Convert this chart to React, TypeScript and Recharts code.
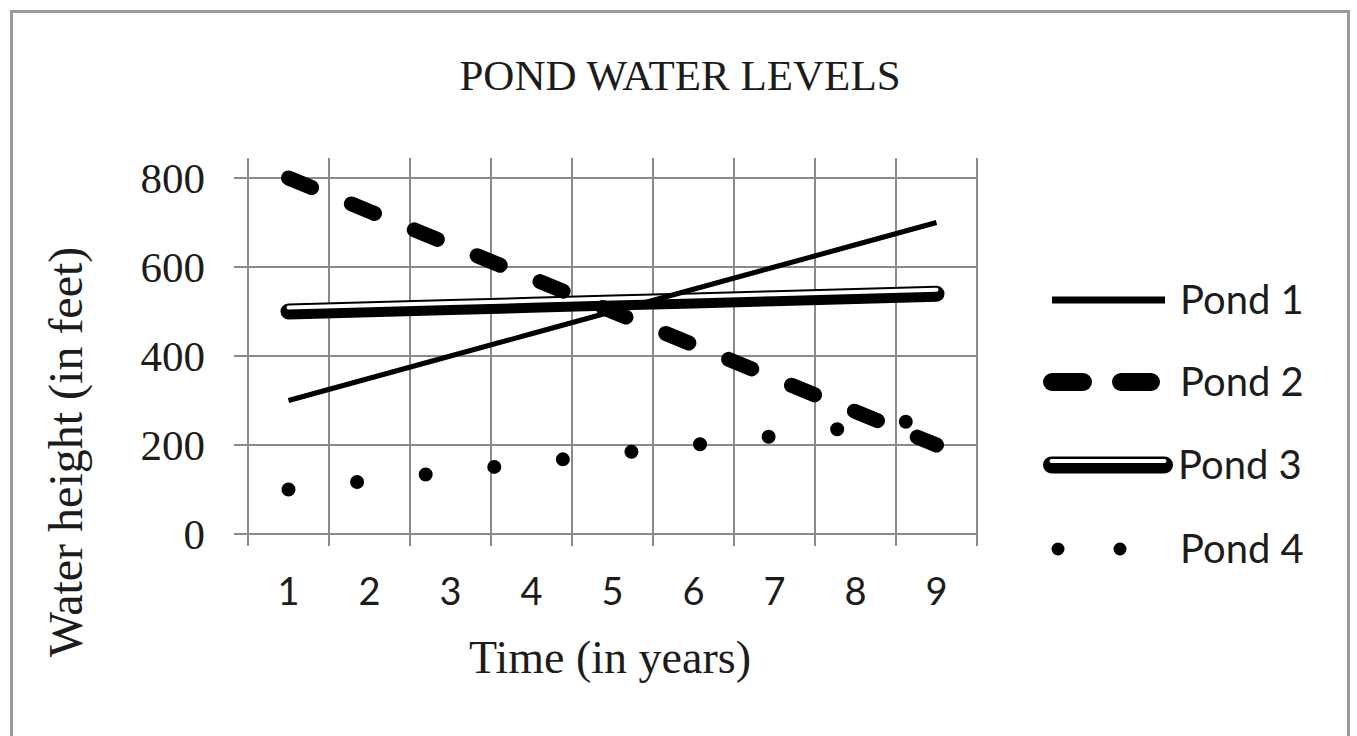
import React from 'react';
import { LineChart, Line, XAxis, YAxis, CartesianGrid, Legend } from 'recharts';

const years = [1, 2, 3, 4, 5, 6, 7, 8, 9];
const pond1 = [300, 350, 400, 450, 500, 550, 600, 650, 700];
const pond2 = [800, 725, 650, 575, 500, 425, 350, 275, 200];
const pond3 = [500, 505, 510, 515, 520, 525, 530, 535, 540];
const pond4 = [100, 120, 140, 160, 180, 200, 220, 240, 260];
const seriesNames = ['Pond 1', 'Pond 2', 'Pond 3', 'Pond 4'];
const yTicks = [0, 200, 400, 600, 800];
const yMax = 845;
const xMin = 0.5;
const xMax = 9.5;
const xBoundaries = [0.5, 1.5, 2.5, 3.5, 4.5, 5.5, 6.5, 7.5, 8.5, 9.5];

const data = years.map((y, i) => ({
  year: y,
  p1: pond1[i],
  p2: pond2[i],
  p3: pond3[i],
  p4: pond4[i],
}));

const SERIF = "'Liberation Serif', 'Times New Roman', serif";
const SANS = "Lato, 'Open Sans', sans-serif";
const GRID = '#8a8a8a';
const INK = '#1c1c1c';

const LegendContent = () => {
  const tx = 150;
  const fs = 40;
  return (
    <svg width={300} height={320} style={{ display: 'block', overflow: 'visible' }}>
      <line x1={22} y1={30} x2={135} y2={30} stroke="#000" strokeWidth={7} />
      <text x={tx} y={44} fontSize={fs} fontFamily={SANS} fill={INK}>{seriesNames[0]}</text>

      <line x1={22} y1={112} x2={53} y2={112} stroke="#000" strokeWidth={18} strokeLinecap="round" />
      <line x1={91} y1={112} x2={121} y2={112} stroke="#000" strokeWidth={18} strokeLinecap="round" />
      <text x={tx} y={126} fontSize={fs} fontFamily={SANS} fill={INK}>{seriesNames[1]}</text>

      <line x1={21.5} y1={195} x2={134.5} y2={195} stroke="#000" strokeWidth={17} strokeLinecap="round" />
      <line x1={21.5} y1={191} x2={134.5} y2={191} stroke="#fff" strokeWidth={4} strokeLinecap="round" />
      <text x={tx - 2} y={209} fontSize={fs} fontFamily={SANS} fill={INK}>{seriesNames[2]}</text>

      <circle cx={28} cy={279} r={6.5} fill="#000" />
      <circle cx={90} cy={279} r={6.5} fill="#000" />
      <text x={tx} y={293} fontSize={fs} fontFamily={SANS} fill={INK}>{seriesNames[3]}</text>
    </svg>
  );
};

const horizontalGen = (props: any) => {
  const off = props?.offset;
  if (!off || typeof off.top !== 'number' || typeof off.height !== 'number') return [];
  return yTicks.map((t) => off.top + off.height * (1 - t / yMax));
};

const verticalGen = (props: any) => {
  const off = props?.offset;
  if (!off || typeof off.left !== 'number' || typeof off.width !== 'number') return [];
  return xBoundaries.map((b) => off.left + (off.width * (b - xMin)) / (xMax - xMin));
};

export default function App() {
  return (
    <div style={{ position: 'absolute', left: 0, top: 0, width: 1357, height: 736, background: '#fff', overflow: 'hidden' }}>
      <style>{`.pond3-inner { transform: translateY(-4px); }`}</style>
      <div
        style={{
          position: 'absolute',
          left: 10,
          top: 10,
          width: 1340,
          height: 800,
          border: '3px solid #9a9a9a',
          boxSizing: 'border-box',
        }}
      />
      <div style={{ position: 'absolute', left: 0, top: 0 }}>
        <LineChart
          width={1357}
          height={736}
          data={data}
          margin={{ top: 158, right: 380, bottom: 128, left: 118 }}
        >
          <CartesianGrid
            xAxisId="grid"
            stroke={GRID}
            strokeWidth={2}
            horizontalCoordinatesGenerator={horizontalGen}
            verticalCoordinatesGenerator={verticalGen}
          />
          <XAxis
            xAxisId="grid"
            dataKey="year"
            type="number"
            domain={[xMin, xMax]}
            ticks={xBoundaries}
            interval={0}
            tickFormatter={() => ''}
            tickSize={12}
            height={14}
            axisLine={{ stroke: GRID, strokeWidth: 2 }}
            tickLine={{ stroke: GRID, strokeWidth: 2 }}
          />
          <XAxis
            xAxisId="labels"
            dataKey="year"
            type="number"
            domain={[xMin, xMax]}
            ticks={years}
            interval={0}
            axisLine={false}
            tickLine={false}
            tickSize={0}
            tickMargin={30}
            height={60}
            tick={{ fontSize: 38, fontFamily: SANS, fill: INK }}
            label={{
              content: () => (
                <text x={610} y={673} textAnchor="middle" fontSize={46} fontFamily={SERIF} fill={INK}>
                  Time (in years)
                </text>
              ),
            }}
          />
          <YAxis
            type="number"
            domain={[0, yMax]}
            ticks={yTicks}
            width={130}
            tickSize={14}
            tickMargin={29}
            axisLine={{ stroke: GRID, strokeWidth: 2 }}
            tickLine={{ stroke: GRID, strokeWidth: 2 }}
            tick={{ fontSize: 43, fontFamily: SERIF, fill: INK }}
            label={{
              content: () => (
                <text
                  x={82}
                  y={452}
                  transform="rotate(-90 82 452)"
                  textAnchor="middle"
                  fontSize={48}
                  fontFamily={SERIF}
                  fill={INK}
                >
                  Water height (in feet)
                </text>
              ),
            }}
          />
          <Legend
            layout="vertical"
            align="center"
            verticalAlign="middle"
            content={LegendContent}
            wrapperStyle={{ left: 1030, top: 270, width: 300, height: 320 }}
          />
          <Line
            xAxisId="labels"
            dataKey="p3"
            name={seriesNames[2]}
            stroke="#000"
            strokeWidth={16}
            strokeLinecap="round"
            dot={false}
            isAnimationActive={false}
            legendType="none"
          />
          <Line
            xAxisId="labels"
            dataKey="p3"
            name="p3inner"
            className="pond3-inner"
            stroke="#fff"
            strokeWidth={4}
            strokeLinecap="round"
            dot={false}
            isAnimationActive={false}
            legendType="none"
          />
          <Line
            xAxisId="labels"
            dataKey="p1"
            name={seriesNames[0]}
            stroke="#000"
            strokeWidth={5}
            dot={false}
            isAnimationActive={false}
          />
          <Line
            xAxisId="labels"
            dataKey="p2"
            name={seriesNames[1]}
            stroke="#000"
            strokeWidth={15}
            strokeLinecap="round"
            strokeDasharray="25 43"
            dot={false}
            isAnimationActive={false}
          />
          <Line
            xAxisId="labels"
            dataKey="p4"
            name={seriesNames[3]}
            stroke="#000"
            strokeWidth={14}
            strokeLinecap="round"
            strokeDasharray="0 69"
            dot={false}
            isAnimationActive={false}
          />
        </LineChart>
      </div>
      <svg width={1357} height={736} style={{ position: 'absolute', left: 0, top: 0, pointerEvents: 'none' }}>
        <text x={680} y={90} textAnchor="middle" fontSize={43} fontFamily={SERIF} fill={INK}>
          POND WATER LEVELS
        </text>
      </svg>
    </div>
  );
}
